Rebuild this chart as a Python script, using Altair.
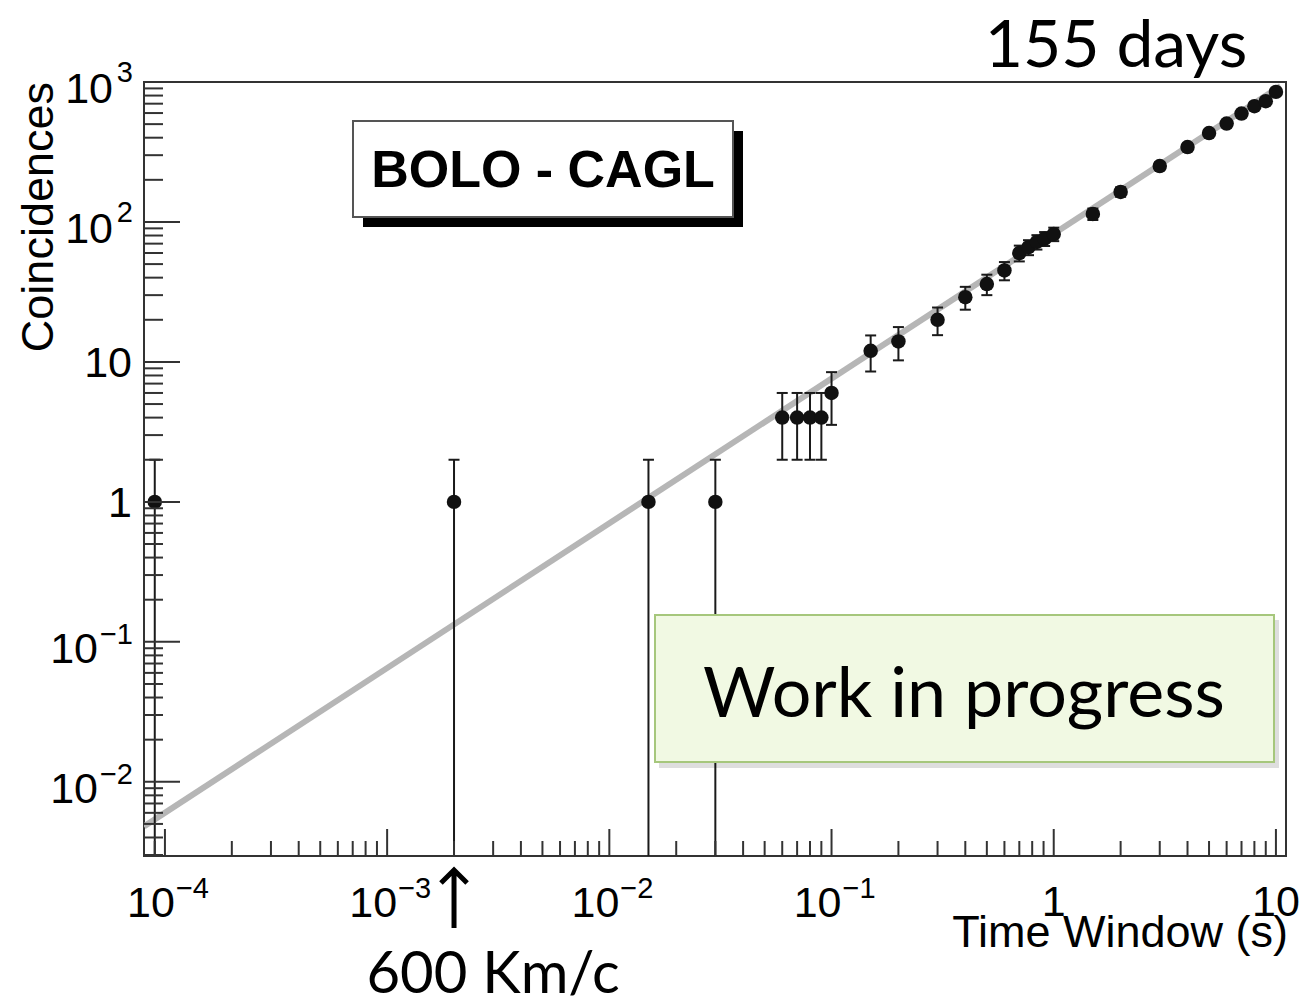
import altair as alt
import pandas as pd

# Cumulative coincidences (BOLO - CAGL) versus coincidence time window
window_s = [9e-5, 2e-3, 0.015, 0.03, 0.06, 0.07, 0.08, 0.09, 0.1, 0.15, 0.2, 0.3,
            0.4, 0.5, 0.6, 0.7, 0.77, 0.84, 0.91, 1.0, 1.5, 2, 3, 4, 5, 6, 7, 8, 9, 10]
coincidences = [1, 1, 1, 1, 4, 4, 4, 4, 6, 12, 14, 20,
                29, 36, 45, 60, 66, 72, 76, 82, 114, 164, 251, 343, 432, 505, 595, 672, 730, 850]
errors = [1, 1, 1, 1, 2, 2, 2, 2, 2.45, 3.46, 3.74, 4.47,
          5.39, 6.0, 6.7, 7.75, 8.1, 8.5, 8.7, 9.06, 10.7, 12.8, 15.8, 18.5, 20.8, 22.5, 24.4, 25.9, 27.0, 29.2]

# Straight-line (power law) fit end points
fit_x = [8.05e-5, 10.5]
fit_y = [0.0048, 937]

# Axis ranges
x_range = [8.05e-5, 11.1]
y_range = [0.00295, 1000]

# Ticks
x_major = [1e-4, 1e-3, 1e-2, 1e-1, 1, 10]
x_minor = [9e-5] + [m * 10.0 ** e for e in range(-4, 1) for m in range(2, 10)]
y_major = [1e-2, 1e-1, 1, 10, 100, 1000]
y_minor = [m * 10.0 ** e for e in range(-3, 3) for m in range(2, 10) if m * 10.0 ** e >= y_range[0]]

# Tick labels: base and superscript exponent
x_label_vals = [1e-4, 1e-3, 1e-2, 1e-1, 1, 10]
x_label_base = ["10", "10", "10", "10", "1", "10"]
x_label_exp = ["\u22124", "\u22123", "\u22122", "\u22121", "", ""]
y_label_vals = [1000, 100, 10, 1, 0.1, 0.01]
y_label_base = ["10", "10", "10", "1", "10", "10"]
y_label_exp = ["3", "2", "", "", "\u22121", "\u22122"]

arrow_at = [2e-3]

W, H = 1142, 774
ROOT_FONT = "Liberation Sans"
SLIDE_FONT = "Lato"

xs = alt.Scale(type="log", domain=x_range, nice=False)
ys = alt.Scale(type="log", domain=y_range, nice=False)


def X(field="v"):
    return alt.X(f"{field}:Q", scale=xs, axis=None)


def Y(field="v"):
    return alt.Y(f"{field}:Q", scale=ys, axis=None)


pts = pd.DataFrame({"x": window_s, "y": coincidences, "e": errors})
pts["hi"] = pts["y"] + pts["e"]
pts["lo"] = (pts["y"] - pts["e"]).clip(lower=y_range[0])
caps_lo = pts[pts["y"] - pts["e"] > y_range[0]]

fit = pd.DataFrame({"x": fit_x, "y": fit_y})

fit_line = alt.Chart(fit).mark_line(color="#b6b6b6", strokeWidth=6, clip=True).encode(
    x=X("x"), y=Y("y"))

err_rules = alt.Chart(pts).mark_rule(color="#1a1a1a", strokeWidth=2, clip=True).encode(
    x=X("x"), y=Y("lo"), y2="hi")

cap_shape = "M-1,0L1,0"
caps_top = alt.Chart(pts).mark_point(shape=cap_shape, filled=False, color="#1a1a1a",
                                     strokeWidth=2, size=121, opacity=1, clip=True).encode(
    x=X("x"), y=Y("hi"))
caps_bottom = alt.Chart(caps_lo).mark_point(shape=cap_shape, filled=False, color="#1a1a1a",
                                            strokeWidth=2, size=121, opacity=1, clip=True).encode(
    x=X("x"), y=Y("lo"))

markers = alt.Chart(pts).mark_circle(color="#111111", size=210, opacity=1, clip=True).encode(
    x=X("x"), y=Y("y"))

# Inward-pointing ROOT style ticks
tick_color = "#333333"
y_major_ticks = alt.Chart(pd.DataFrame({"v": y_major})).mark_rule(color=tick_color, strokeWidth=2).encode(
    y=Y(), x=alt.value(0), x2=alt.value(36))
y_minor_ticks = alt.Chart(pd.DataFrame({"v": y_minor})).mark_rule(color=tick_color, strokeWidth=2).encode(
    y=Y(), x=alt.value(0), x2=alt.value(19))
x_major_ticks = alt.Chart(pd.DataFrame({"v": x_major})).mark_rule(color=tick_color, strokeWidth=2).encode(
    x=X(), y=alt.value(H), y2=alt.value(H - 27))
x_minor_ticks = alt.Chart(pd.DataFrame({"v": x_minor})).mark_rule(color=tick_color, strokeWidth=2).encode(
    x=X(), y=alt.value(H), y2=alt.value(H - 15))

# Tick labels
ylab = pd.DataFrame({"v": y_label_vals, "base": y_label_base, "exp": y_label_exp})
ylab["n"] = ylab["exp"].str.len()
xlab = pd.DataFrame({"v": x_label_vals, "base": x_label_base, "exp": x_label_exp})
xlab["n"] = xlab["exp"].str.len()

LAB = 43
EXP = 29


def ytext(df, field, xpos, dy, size):
    return alt.Chart(df).mark_text(align="right", baseline="alphabetic", dy=dy, font=ROOT_FONT,
                                   fontSize=size, color="black").encode(
        y=Y(), x=alt.value(xpos), text=f"{field}:N")


y_labels = [
    ytext(ylab[ylab["n"] == 0], "base", -12, 15, LAB),
    ytext(ylab[ylab["n"] == 1], "base", -31, 21, LAB),
    ytext(ylab[ylab["n"] == 1], "exp", -11, 0, EXP),
    ytext(ylab[ylab["n"] == 2], "base", -46, 21, LAB),
    ytext(ylab[ylab["n"] == 2], "exp", -11, 2, EXP),
]


def xtext(df, field, align, dx, ypos, size):
    return alt.Chart(df).mark_text(align=align, baseline="alphabetic", dx=dx, font=ROOT_FONT,
                                   fontSize=size, color="black").encode(
        x=X(), y=alt.value(ypos), text=f"{field}:N")


x_labels = [
    xtext(xlab[xlab["n"] == 0], "base", "center", 0, H + 60, LAB),
    xtext(xlab[xlab["n"] == 2], "base", "right", 10, H + 61, LAB),
    xtext(xlab[xlab["n"] == 2], "exp", "left", 11, H + 42, EXP),
]

x_title = alt.Chart(pd.DataFrame({"t": ["Time Window (s)"]})).mark_text(
    align="right", baseline="alphabetic", font=ROOT_FONT, fontSize=45, color="black").encode(
    x=alt.value(W + 2), y=alt.value(H + 91), text="t:N")

y_title = alt.Chart(pd.DataFrame({"t": ["Coincidences"]})).mark_text(
    align="right", baseline="alphabetic", angle=270, font=ROOT_FONT, fontSize=45, color="black").encode(
    x=alt.value(-91), y=alt.value(0), text="t:N")

# Legend-style label box with solid shadow
one = pd.DataFrame({"k": [0]})
bolo_shadow = alt.Chart(one).mark_rect(color="black").encode(
    x=alt.value(219), x2=alt.value(599), y=alt.value(49), y2=alt.value(145))
bolo_box = alt.Chart(one).mark_rect(fill="white", stroke="#555555", strokeWidth=2).encode(
    x=alt.value(209), x2=alt.value(589), y=alt.value(39), y2=alt.value(135))
bolo_text = alt.Chart(pd.DataFrame({"t": ["BOLO - CAGL"]})).mark_text(
    align="center", baseline="alphabetic", font=ROOT_FONT, fontWeight="bold", fontSize=52,
    color="black").encode(x=alt.value(399), y=alt.value(105), text="t:N")

# "Work in progress" note
wip_shadow = alt.Chart(one).mark_rect(color="black", opacity=0.13).encode(
    x=alt.value(515), x2=alt.value(1135), y=alt.value(538), y2=alt.value(686))
wip_box = alt.Chart(one).mark_rect(fill="#f1f9e3", stroke="#a6c77c", strokeWidth=2).encode(
    x=alt.value(511), x2=alt.value(1130), y=alt.value(533), y2=alt.value(680))
wip_text = alt.Chart(pd.DataFrame({"t": ["Work in progress"]})).mark_text(
    align="center", baseline="alphabetic", font=SLIDE_FONT, fontSize=70, color="black").encode(
    x=alt.value(820), y=alt.value(635), text="t:N")

days_text = alt.Chart(pd.DataFrame({"t": ["155 days"]})).mark_text(
    align="center", baseline="alphabetic", font=SLIDE_FONT, fontSize=66, color="black").encode(
    x=alt.value(972), y=alt.value(-15), text="t:N")

# Arrow marking the 2 ms window (600 km light travel)
arrow_df = pd.DataFrame({"v": arrow_at, "t": ["600 Km/c"]})
arrow = alt.Chart(arrow_df).mark_point(
    shape="M0,-1L0,1M-0.45,-0.55L0,-1L0.45,-0.55", filled=False, color="black",
    strokeWidth=5, size=3364, opacity=1).encode(x=X(), y=alt.value(H + 43))
arrow_text = alt.Chart(arrow_df).mark_text(
    align="center", baseline="alphabetic", dx=39, font=SLIDE_FONT, fontSize=58, color="black").encode(
    x=X(), y=alt.value(H + 137), text="t:N")

chart = alt.layer(
    fit_line, err_rules, caps_top, caps_bottom, markers,
    y_major_ticks, y_minor_ticks, x_major_ticks, x_minor_ticks,
    *y_labels, *x_labels, x_title, y_title,
    bolo_shadow, bolo_box, bolo_text,
    wip_shadow, wip_box, wip_text, days_text,
    arrow, arrow_text,
).properties(
    width=W, height=H,
    padding={"left": 144, "top": 82, "right": 19, "bottom": 152},
    autosize=alt.AutoSizeParams(type="none"),
    background="white",
).configure_view(stroke="#333333", strokeWidth=2)

chart.save("out.html", embed_options={"renderer": "svg", "actions": False})
